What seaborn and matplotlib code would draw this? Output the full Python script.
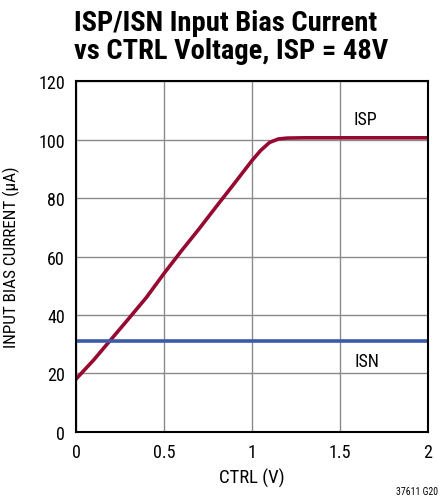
import numpy as np
import pandas as pd
import matplotlib
matplotlib.use("Agg")
import matplotlib.pyplot as plt
import seaborn as sns

# values
ctrl_v = [0.0, 0.1, 0.2, 0.3, 0.4, 0.5, 0.6, 0.7, 0.8, 0.9, 1.0, 1.05, 1.1,
          1.15, 1.2, 1.3, 1.5, 2.0]
isp_ua = [18.1, 24.6, 31.7, 38.8, 46.0, 54.2, 62.0, 69.5, 77.3, 85.0, 92.8,
          96.3, 99.0, 100.2, 100.5, 100.6, 100.6, 100.6]
isn_ctrl = [0.0, 2.0]
isn_ua = [31.2, 31.2]

xticks = [0, 0.5, 1, 1.5, 2]
xticklabels = ["0", "0.5", "1", "1.5", "2"]
yticks = [0, 20, 40, 60, 80, 100, 120]

df = pd.concat([
    pd.DataFrame({"ctrl": ctrl_v, "current": isp_ua, "pin": "ISP"}),
    pd.DataFrame({"ctrl": isn_ctrl, "current": isn_ua, "pin": "ISN"}),
])

sns.set_style("white")
fonts = ['Roboto Condensed', 'Liberation Sans Narrow', 'Roboto', 'DejaVu Sans']
plt.rcParams['font.family'] = fonts
plt.rcParams['text.color'] = 'black'
plt.rcParams['axes.labelcolor'] = 'black'

fig = plt.figure(figsize=(4.42, 5.02), dpi=100)
ax = fig.add_axes([0.172, 0.1375, 0.796, 0.699])

sns.lineplot(data=df, x="ctrl", y="current", hue="pin",
             palette={"ISP": "#960A32", "ISN": "#3A5BA8"},
             linewidth=2.6, legend=False, ax=ax, sort=False)

ax.set_xlim(0, 2)
ax.set_ylim(0, 120)
ax.set_xticks(xticks)
ax.set_xticklabels(xticklabels)
ax.set_yticks(yticks)
ax.tick_params(length=0, labelsize=13, pad=8, colors="black")
ax.grid(True, color="#8a8a8a", linewidth=1)
for s in ax.spines.values():
    s.set_color("black")
    s.set_linewidth(1.5)

ax.set_xlabel("CTRL (V)", fontsize=13.5, labelpad=5)
ax.set_ylabel("INPUT BIAS CURRENT (\u03bcA)", fontsize=12.3)
ax.yaxis.set_label_coords(-0.158, 0.5)

ax.text(1.575, 104, "ISP", fontsize=13, ha="left", va="bottom")
ax.text(1.585, 27.5, "ISN", fontsize=13, ha="left", va="top")

fig.text(0.168, 1 - 31 / 502, "ISP/ISN Input Bias Current",
         fontsize=20.5, fontweight="bold", ha="left", va="baseline")
fig.text(0.168, 1 - 59 / 502, "vs CTRL Voltage, ISP = 48V",
         fontsize=20.5, fontweight="bold", ha="left", va="baseline")
fig.text(0.99, 0.01, "37611 G20", fontsize=7, ha="right", va="bottom")

fig.savefig("out.png", dpi=100)
